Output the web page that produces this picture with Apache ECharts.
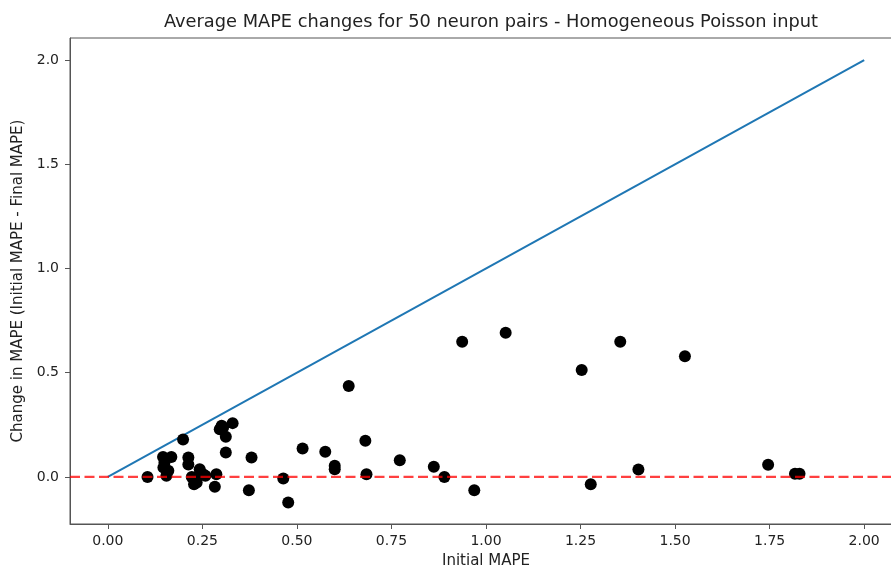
<!DOCTYPE html>
<html>
<head>
<meta charset="utf-8">
<script src="https://cdn.jsdelivr.net/npm/echarts@6/dist/echarts.min.js"></script>
<style>
  html, body { margin: 0; padding: 0; background: #fff; }
  #chart { width: 891px; height: 570px; }
</style>
</head>
<body>
<div id="chart"></div>
<script>
// Initial MAPE for each neuron pair
const initialMape = [
  0.105, 0.146, 0.168, 0.147, 0.155, 0.150, 0.199, 0.213, 0.213, 0.243,
  0.252, 0.235, 0.228, 0.287, 0.283, 0.296, 0.301, 0.330, 0.312, 0.312,
  0.380, 0.373, 0.464, 0.477, 0.515, 0.575, 0.600, 0.600, 0.637, 0.681,
  0.684, 0.772, 0.862, 0.890, 0.937, 0.969, 1.052, 1.253, 1.277, 1.355,
  1.403, 1.526, 1.746, 1.817, 1.829, 0.258, 0.245, 0.160, 0.305, 0.222
];
// Initial MAPE minus final MAPE for the same pairs
const mapeChange = [
  0.000, 0.095, 0.095, 0.045, 0.005, 0.070, 0.180, 0.093, 0.060, 0.037,
  0.013, -0.027, -0.035, 0.013, -0.047, 0.229, 0.245, 0.258, 0.193, 0.117,
  0.093, -0.064, -0.008, -0.123, 0.136, 0.121, 0.053, 0.037, 0.436, 0.173,
  0.013, 0.080, 0.049, 0.000, 0.649, -0.064, 0.692, 0.513, -0.035, 0.649,
  0.035, 0.579, 0.058, 0.015, 0.015, 0.005, 0.020, 0.030, 0.238, 0.000
];
// Upper bound line: change equals initial MAPE
const boundX = [0, 2];
const boundY = [0, 2];

const xTicks = [0, 0.25, 0.5, 0.75, 1.0, 1.25, 1.5, 1.75, 2.0];
const yTicks = [0, 0.5, 1.0, 1.5, 2.0];

const textColor = '#222';
const axisColor = '#555';
const font = 'DejaVu Sans';

const chart = echarts.init(document.getElementById('chart'), null, { renderer: 'canvas' });

const points = initialMape.map((x, i) => [x, mapeChange[i]]);
const bound = boundX.map((x, i) => [x, boundY[i]]);

chart.setOption({
  animation: false,
  backgroundColor: '#fff',
  title: {
    text: 'Average MAPE changes for 50 neuron pairs - Homogeneous Poisson input',
    left: 486,
    top: 8,
    textAlign: 'center',
    textStyle: { fontFamily: font, fontSize: 17.8, fontWeight: 'normal', color: textColor }
  },
  grid: {
    left: 70, top: 38, width: 832, height: 486,
    outerBoundsMode: 'none',
    containLabel: false,
    show: true, borderColor: axisColor, borderWidth: 1, backgroundColor: 'transparent'
  },
  xAxis: {
    type: 'value',
    min: -0.1, max: 2.1,
    name: 'Initial MAPE',
    nameLocation: 'middle',
    nameGap: 30,
    nameTextStyle: { fontFamily: font, fontSize: 15, color: textColor },
    splitLine: { show: false },
    axisLine: { show: true, onZero: false, lineStyle: { color: axisColor, width: 1 } },
    axisTick: { show: true, length: 5, customValues: xTicks, lineStyle: { color: axisColor } },
    axisLabel: {
      customValues: xTicks, margin: 10,
      fontFamily: font, fontSize: 14, color: textColor,
      formatter: v => v.toFixed(2)
    }
  },
  yAxis: {
    type: 'value',
    min: -0.226, max: 2.106,
    name: 'Change in MAPE (Initial MAPE - Final MAPE)',
    nameLocation: 'middle',
    nameGap: 44,
    nameTextStyle: { fontFamily: font, fontSize: 15, color: textColor },
    splitLine: { show: false },
    axisLine: { show: true, onZero: false, lineStyle: { color: axisColor, width: 1 } },
    axisTick: { show: true, length: 5, customValues: yTicks, lineStyle: { color: axisColor } },
    axisLabel: {
      customValues: yTicks, margin: 11,
      fontFamily: font, fontSize: 14, color: textColor,
      formatter: v => v.toFixed(1)
    }
  },
  series: [
    {
      type: 'line',
      data: bound,
      symbol: 'none',
      lineStyle: { color: '#1f77b4', width: 2 },
      z: 2
    },
    {
      type: 'line',
      data: [[-0.1, 0], [2.1, 0]],
      symbol: 'none',
      lineStyle: { color: 'rgba(255,0,0,0.75)', width: 2.2, type: [10, 4.5] },
      z: 4
    },
    {
      type: 'scatter',
      data: points,
      symbol: 'circle',
      symbolSize: 12,
      itemStyle: { color: '#000', opacity: 1 },
      z: 3
    }
  ]
});
</script>
</body>
</html>
